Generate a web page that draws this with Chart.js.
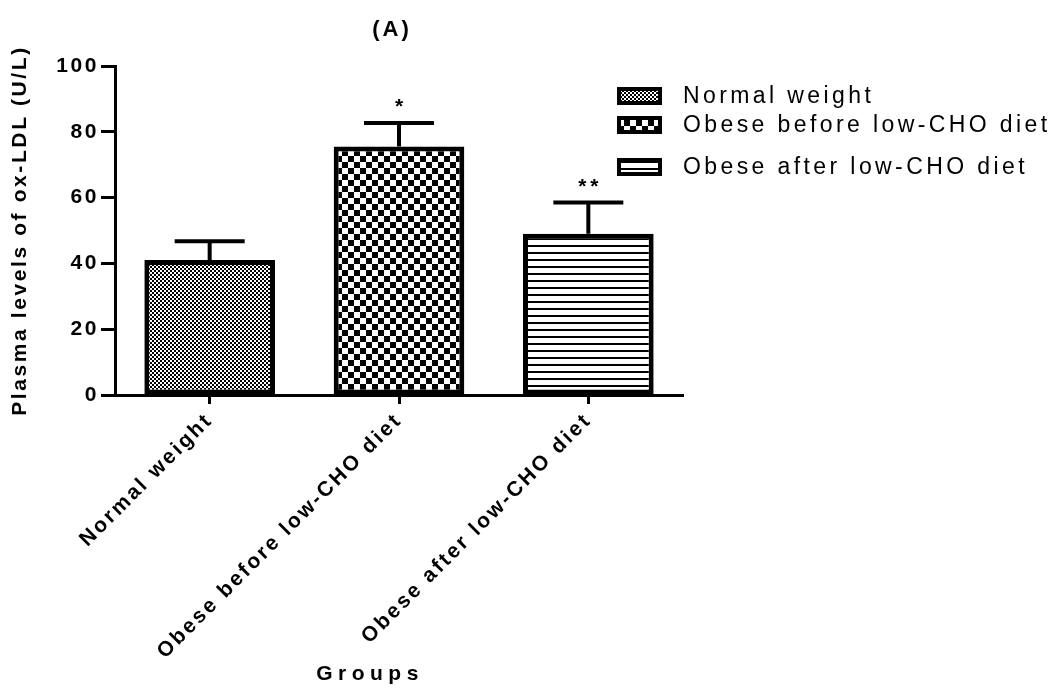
<!DOCTYPE html>
<html>
<head>
<meta charset="utf-8">
<title>Plasma levels of ox-LDL</title>
<script src="https://cdn.jsdelivr.net/npm/chart.js@4.4.0/dist/chart.umd.min.js"></script>
<style>
  html, body { margin: 0; padding: 0; background: #fff; }
  #wrap { width: 1064px; height: 690px; }
</style>
</head>
<body>
<div id="wrap"><canvas id="chart" width="1064" height="690"></canvas></div>
<script>
const categories = ["Normal weight", "Obese before low-CHO diet", "Obese after low-CHO diet"];
const means = [41, 75.5, 49];
const sems = [5.7, 7.2, 9.5];
const marks = ["", "*", "**"];
const yTicks = [0, 20, 40, 60, 80, 100];
const legendLabels = ["Normal weight", "Obese before low-CHO diet", "Obese after low-CHO diet"];

const FONT = "'Liberation Sans', Arial, sans-serif";
const canvas = document.getElementById("chart");
const ctx = canvas.getContext("2d");

// pattern fills like the GraphPad hatches
function makePattern(w, h, draw) {
  const c = document.createElement("canvas");
  c.width = w; c.height = h;
  const g = c.getContext("2d");
  g.fillStyle = "#fff";
  g.fillRect(0, 0, w, h);
  g.fillStyle = "#000";
  draw(g);
  return ctx.createPattern(c, "repeat");
}
const fineChecker = makePattern(4, 4, g => { g.fillRect(0, 0, 2, 2); g.fillRect(2, 2, 2, 2); });
const bigChecker = makePattern(12, 12, g => { g.fillRect(0, 0, 6, 6); g.fillRect(6, 6, 6, 6); });
const hLines = makePattern(4, 7, g => { g.fillRect(0, 0, 4, 2); });
const fills = [fineChecker, bigChecker, hLines];

const decor = {
  id: "decor",
  beforeUpdate(chart) { chart.ctx.letterSpacing = "2.6px"; },
  beforeDraw(chart) { chart.ctx.letterSpacing = "2.6px"; },
  afterDatasetsDraw(chart) {
    const c = chart.ctx;
    const xs = chart.scales.x, ys = chart.scales.y;
    c.save();
    c.strokeStyle = "#000";
    c.fillStyle = "#000";
    c.lineWidth = 4;
    means.forEach((m, i) => {
      const x = xs.getPixelForValue(i);
      const yb = ys.getPixelForValue(m);
      const yt = ys.getPixelForValue(m + sems[i]);
      c.beginPath();
      c.moveTo(x, yb); c.lineTo(x, yt);
      c.moveTo(x - 35, yt); c.lineTo(x + 35, yt);
      c.stroke();
      if (marks[i]) {
        c.font = "bold 21px " + FONT;
        c.letterSpacing = "4px";
        c.textAlign = "center";
        c.textBaseline = "alphabetic";
        c.fillText(marks[i], x + 2, yt - 10);
      }
    });
    c.restore();
  },
  afterDraw(chart) {
    const c = chart.ctx;
    c.save();
    c.fillStyle = "#000";
    // title
    c.font = "bold 22px " + FONT;
    c.letterSpacing = "3px";
    c.textAlign = "center";
    c.textBaseline = "middle";
    c.fillText("(A)", 392, 30);
    // x axis title
    c.font = "bold 21px " + FONT;
    c.letterSpacing = "5.5px";
    c.fillText("Groups", 370, 674);
    // legend
    const rows = [96, 125, 167];
    c.font = "23px " + FONT;
    c.letterSpacing = "3.4px";
    c.textAlign = "left";
    legendLabels.forEach((t, i) => {
      const y = rows[i];
      c.fillStyle = "#000";
      c.fillRect(617, y - 9, 45, 18);
      c.fillStyle = fills[i];
      c.fillRect(621, y - 5, 37, 10);
      c.fillStyle = "#000";
      c.fillText(t, 683, y + 1);
    });
    c.restore();
  }
};

new Chart(canvas, {
  type: "bar",
  data: {
    labels: categories,
    datasets: [{
      data: means,
      backgroundColor: fills,
      borderColor: "#000",
      borderWidth: 5,
      borderSkipped: false,
      barPercentage: 0.69,
      categoryPercentage: 1
    }]
  },
  options: {
    responsive: false,
    animation: false,
    devicePixelRatio: 1,
    layout: { padding: { left: 0, top: 66, right: 381, bottom: 0 } },
    plugins: { legend: { display: false }, tooltip: { enabled: false }, title: { display: false } },
    scales: {
      x: {
        afterFit: s => { s.height = 295; },
        grid: { offset: false, drawOnChartArea: false, tickLength: 9, tickWidth: 3, tickColor: "#000" },
        border: { display: true, color: "#000", width: 3 },
        ticks: {
          minRotation: 45, maxRotation: 45, padding: 4, color: "#000",
          font: { family: FONT, size: 21, weight: "bold" }
        }
      },
      y: {
        min: 0, max: 100,
        afterFit: s => { s.width = 115; },
        afterBuildTicks: s => { s.ticks = yTicks.map(v => ({ value: v })); },
        grid: { drawOnChartArea: false, tickLength: 14, tickWidth: 3, tickColor: "#000" },
        border: { display: true, color: "#000", width: 3 },
        ticks: { padding: 2, color: "#000", font: { family: FONT, size: 21, weight: "bold" } },
        title: {
          display: true, text: "Plasma levels of ox-LDL (U/L)", color: "#000",
          font: { family: FONT, size: 21, weight: "bold" }, padding: { top: 8, bottom: 0 }
        }
      }
    }
  },
  plugins: [decor]
});
</script>
</body>
</html>
